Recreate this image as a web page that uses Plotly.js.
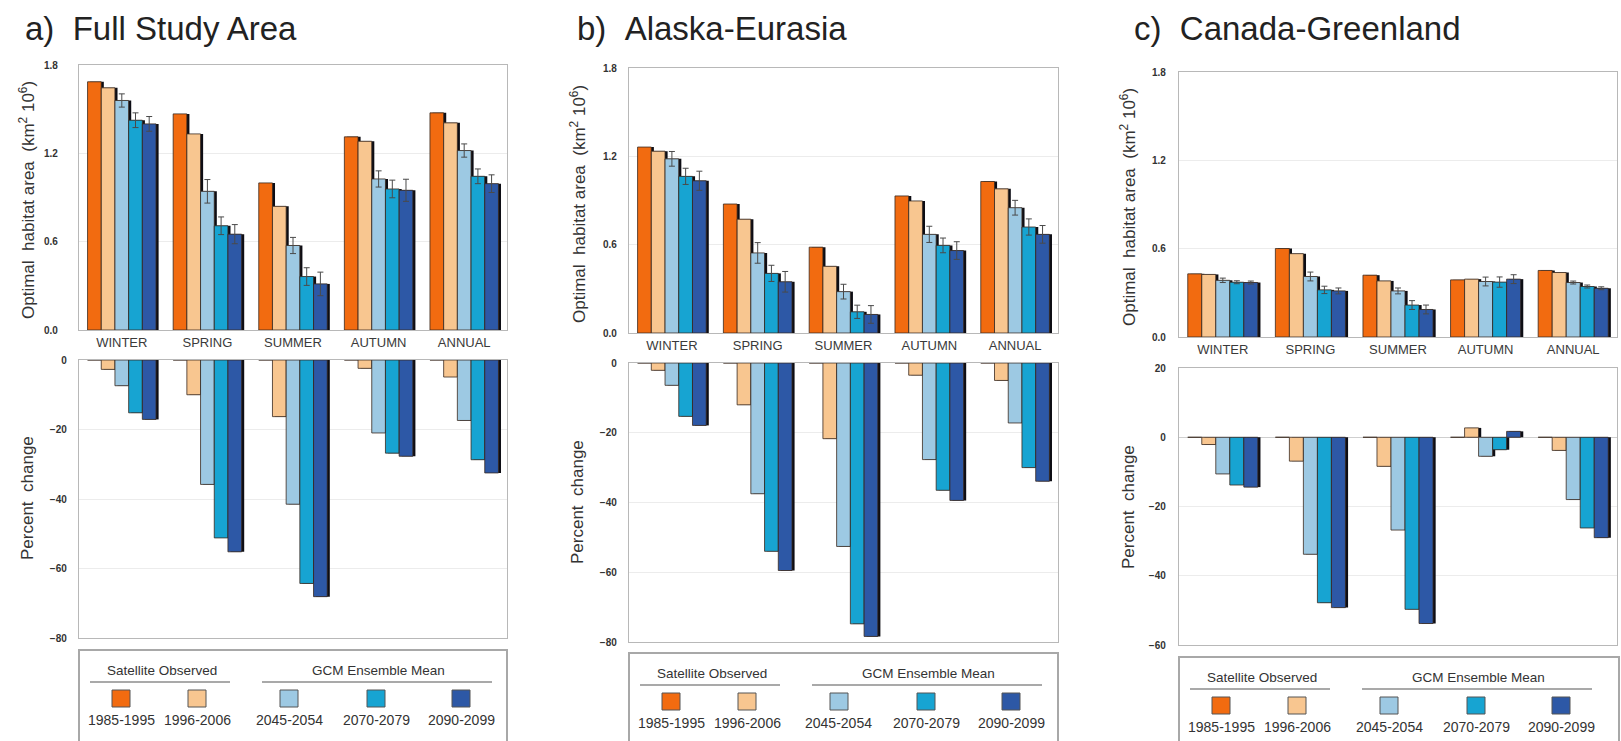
<!DOCTYPE html>
<html><head><meta charset="utf-8">
<script src="https://cdn.plot.ly/plotly-3.0.1.min.js"></script>
<style>html,body{margin:0;padding:0;background:#fff}#chart{width:1621px;height:741px}</style>
</head><body><div id="chart"></div>
<script>
// ---------------- DATA ----------------
const categories = ['WINTER', 'SPRING', 'SUMMER', 'AUTUMN', 'ANNUAL'];
const periods = ['1985-1995', '1996-2006', '2045-2054', '2070-2079', '2090-2099'];
const groupTitles = ['Satellite Observed', 'GCM Ensemble Mean'];
const panelTitles = ['a)\u00a0\u00a0Full Study Area', 'b)\u00a0\u00a0Alaska-Eurasia', 'c)\u00a0\u00a0Canada-Greenland'];
const areaTitle = 'Optimal\u00a0\u00a0habitat area\u00a0\u00a0(km<sup>2</sup> 10<sup>6</sup>)';
const pctTitle = 'Percent\u00a0\u00a0change';

// Optimal habitat area (km2 10^6); rows follow periods
const fullArea = [
  [1.686, 1.468, 0.999, 1.312, 1.475],
  [1.645, 1.332, 0.840, 1.282, 1.407],
  [1.559, 0.942, 0.574, 1.026, 1.219],
  [1.425, 0.708, 0.363, 0.958, 1.044],
  [1.400, 0.651, 0.313, 0.949, 0.994]
];
const fullAreaErr = [
  null, null,
  [0.045, 0.080, 0.055, 0.055, 0.045],
  [0.050, 0.060, 0.060, 0.060, 0.050],
  [0.050, 0.065, 0.080, 0.075, 0.060]
];
const fullPct = [
  [0, 0, 0, 0, 0],
  [-2.7, -10.0, -16.3, -2.4, -4.9],
  [-7.4, -35.8, -41.5, -21.0, -17.4],
  [-15.2, -51.2, -64.3, -26.8, -28.7],
  [-17.1, -55.2, -68.1, -27.7, -32.5]
];

const alaskaArea = [
  [1.263, 0.876, 0.583, 0.931, 1.029],
  [1.235, 0.773, 0.453, 0.897, 0.979],
  [1.183, 0.544, 0.281, 0.670, 0.851],
  [1.064, 0.405, 0.144, 0.595, 0.720],
  [1.034, 0.348, 0.126, 0.560, 0.670]
];
const alaskaAreaErr = [
  null, null,
  [0.050, 0.070, 0.050, 0.055, 0.050],
  [0.055, 0.055, 0.045, 0.050, 0.055],
  [0.065, 0.070, 0.060, 0.060, 0.060]
];
const alaskaPct = [
  [0, 0, 0, 0, 0],
  [-2.1, -12.0, -21.7, -3.5, -5.0],
  [-6.4, -37.5, -52.6, -27.7, -17.2],
  [-15.3, -54.0, -74.8, -36.5, -30.0],
  [-17.9, -59.5, -78.4, -39.4, -33.9]
];

const canadaArea = [
  [0.429, 0.601, 0.420, 0.388, 0.452],
  [0.425, 0.566, 0.381, 0.393, 0.438],
  [0.385, 0.411, 0.313, 0.377, 0.370],
  [0.372, 0.320, 0.217, 0.373, 0.343],
  [0.370, 0.313, 0.187, 0.393, 0.331]
];
const canadaAreaErr = [
  null, null,
  [0.015, 0.030, 0.020, 0.030, 0.010],
  [0.010, 0.025, 0.030, 0.035, 0.010],
  [0.010, 0.020, 0.030, 0.030, 0.010]
];
const canadaPct = [
  [0, 0, 0, 0, 0],
  [-2.1, -6.9, -8.4, 2.7, -3.8],
  [-10.6, -33.8, -26.8, -5.5, -18.0],
  [-13.8, -47.8, -49.7, -3.6, -26.2],
  [-14.4, -49.2, -53.8, 1.7, -29.0]
];

// ---------------- STYLE / GEOMETRY ----------------
const colors = ['#F26B10', '#F8C690', '#9DC9E3', '#17A4D2', '#2D58A6'];
const W = 1621, H = 741;
const fx = v => v / W, fy = v => 1 - v / H;

const panels = [
  {area: fullArea, err: fullAreaErr, pct: fullPct, pctRange: [-80, 0], pctDtick: 20,
   L: 79, R: 507, top: [65, 330], bot: [360, 638], titleX: 23, ytX: 27, ytY: 200, pcY: 498,
   legTop: 650, legW: 428, standT: 18, standB: 9},
  {area: alaskaArea, err: alaskaAreaErr, pct: alaskaPct, pctRange: [-80, 0], pctDtick: 20,
   L: 629, R: 1058, top: [68, 333], bot: [363, 642], titleX: 575, ytX: 578, ytY: 204, pcY: 502,
   legTop: 653, legW: 429, standT: 9, standB: 9},
  {area: canadaArea, err: canadaAreaErr, pct: canadaPct, pctRange: [-60, 20], pctDtick: 20,
   L: 1179, R: 1617, top: [72, 337], bot: [368, 645], titleX: 1132, ytX: 1128, ytY: 207, pcY: 507,
   legTop: 657, legW: 440, standT: 10, standB: 10}
];

const barW = 0.16, shadowShift = 0.03;
const traces = [];
const layout = {
  width: W, height: H, margin: {l: 0, r: 0, t: 0, b: 0},
  paper_bgcolor: '#fff', plot_bgcolor: '#fff',
  barmode: 'overlay', showlegend: false,
  font: {family: 'Arial, Liberation Sans, sans-serif', color: '#333'},
  annotations: [], shapes: []
};

panels.forEach((p, pi) => {
  const subs = [
    {vals: p.area, err: p.err, ax: 2 * pi + 1, yd: p.top, top: true},
    {vals: p.pct, err: null, ax: 2 * pi + 2, yd: p.bot, top: false}
  ];
  subs.forEach(s => {
    const xa = 'x' + (s.ax === 1 ? '' : s.ax), ya = 'y' + (s.ax === 1 ? '' : s.ax);
    // shadows first
    s.vals.forEach((row, si) => {
      traces.push({
        type: 'bar', x: categories, y: row, xaxis: xa, yaxis: ya,
        offset: -0.4 + si * barW + shadowShift, width: barW,
        marker: {color: '#0d0d14', line: {width: 0}}, hoverinfo: 'skip'
      });
    });
    s.vals.forEach((row, si) => {
      const t = {
        type: 'bar', x: categories, y: row, xaxis: xa, yaxis: ya, name: periods[si],
        offset: -0.4 + si * barW, width: barW,
        marker: {color: colors[si], line: {color: '#3a2a20', width: 0.8}}
      };
      if (s.err && s.err[si]) {
        t.error_y = {type: 'data', array: s.err[si], visible: true, color: '#4a4a4a', thickness: 1, width: 3};
      }
      traces.push(t);
    });
    const xk = 'xaxis' + (s.ax === 1 ? '' : s.ax), yk = 'yaxis' + (s.ax === 1 ? '' : s.ax);
    layout[xk] = {
      domain: [fx(p.L), fx(p.R)], anchor: ya, type: 'category', range: [-0.5, 4.5],
      showline: true, mirror: true, linecolor: '#b8b8b8', linewidth: 1.2,
      showgrid: false, zeroline: false, ticks: '', fixedrange: true,
      showticklabels: s.top, tickfont: {size: 13, color: '#3a3a3a', family: 'Arial, sans-serif'}
    };
    layout[yk] = {
      domain: [fy(s.yd[1]), fy(s.yd[0])], anchor: xa,
      range: s.top ? [0, 1.8] : p.pctRange, dtick: s.top ? 0.6 : p.pctDtick,
      tickformat: s.top ? '.1f' : 'd',
      showline: true, mirror: true, linecolor: '#b8b8b8', linewidth: 1.2,
      showgrid: true, gridcolor: '#ececec', gridwidth: 1,
      zeroline: !s.top && p.pctRange[1] > 0, zerolinecolor: '#cfcfcf', zerolinewidth: 1,
      ticks: '', ticklabelstandoff: s.top ? p.standT : p.standB, fixedrange: true,
      tickfont: {size: 10, color: '#333', family: 'Arial, sans-serif', weight: 'bold'}
    };
  });

  // panel title
  layout.annotations.push({
    text: panelTitles[pi], xref: 'paper', yref: 'paper', x: fx(p.titleX), y: fy(28),
    xanchor: 'left', yanchor: 'middle', showarrow: false,
    font: {size: 33, color: '#222', family: 'Arial, Liberation Sans, sans-serif'}
  });
  // axis titles
  layout.annotations.push({
    text: areaTitle, xref: 'paper', yref: 'paper', x: fx(p.ytX), y: fy(p.ytY),
    xanchor: 'center', yanchor: 'middle', textangle: -90, showarrow: false,
    font: {size: 17, color: '#333'}
  });
  layout.annotations.push({
    text: pctTitle, xref: 'paper', yref: 'paper', x: fx(p.ytX), y: fy(p.pcY),
    xanchor: 'center', yanchor: 'middle', textangle: -90, showarrow: false,
    font: {size: 17, color: '#333'}
  });

  // custom legend box
  const L = p.L, T = p.legTop;
  layout.shapes.push({type: 'rect', xref: 'paper', yref: 'paper',
    x0: fx(L), x1: fx(L + p.legW), y0: fy(T + 120), y1: fy(T),
    line: {color: '#a8a8a8', width: 2}, fillcolor: 'rgba(0,0,0,0)'});
  const heads = [{cx: L + 83, u0: L + 11, u1: L + 151}, {cx: L + 299, u0: L + 183, u1: L + 413}];
  heads.forEach((h, hi) => {
    layout.annotations.push({
      text: groupTitles[hi], xref: 'paper', yref: 'paper', x: fx(h.cx), y: fy(T + 20),
      xanchor: 'center', yanchor: 'middle', showarrow: false,
      font: {size: 13.5, color: '#333', family: 'Arial, sans-serif'}
    });
    layout.shapes.push({type: 'line', xref: 'paper', yref: 'paper',
      x0: fx(h.u0), x1: fx(h.u1), y0: fy(T + 32), y1: fy(T + 32),
      line: {color: '#555', width: 1.2}});
  });
  const swX = [42, 118, 210, 297, 382];
  periods.forEach((per, si) => {
    const cx = L + swX[si];
    layout.shapes.push({type: 'rect', xref: 'paper', yref: 'paper',
      x0: fx(cx - 9), x1: fx(cx + 9), y0: fy(T + 57), y1: fy(T + 40),
      fillcolor: colors[si], line: {color: '#555', width: 1}});
    layout.annotations.push({
      text: per, xref: 'paper', yref: 'paper', x: fx(cx), y: fy(T + 70),
      xanchor: 'center', yanchor: 'middle', showarrow: false,
      font: {size: 14, color: '#333', family: 'Arial, sans-serif'}
    });
  });
});

Plotly.newPlot('chart', traces, layout, {displayModeBar: false, staticPlot: true});
</script></body></html>
